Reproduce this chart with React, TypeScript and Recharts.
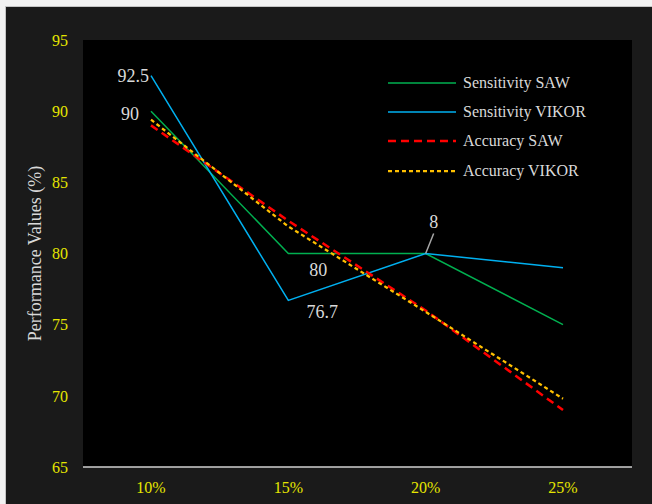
import React from "react";
import { LineChart, Line, XAxis, YAxis, CartesianGrid, Legend, LabelList } from "recharts";

const categories = ["10%", "15%", "20%", "25%"];
const sensitivitySAW = [90, 80, 80, 75];
const sensitivityVIKOR = [92.5, 76.7, 80, 79];
const accuracySAW = [89, 82.3, 76, 69];
const accuracyVIKOR = [89.4, 81.9, 75.9, 69.8];
const sawLabels = ["90", "80", "", ""];
const vikorLabels = ["92.5", "76.7", "8", ""];
const yTicks = [65, 70, 75, 80, 85, 90, 95];

const FONT = "Times New Roman, Liberation Serif, DejaVu Serif, serif";
const YELLOW = "#e6e600";
const LABEL = "#d9d9d9";

const series = [
  { key: "sSAW", name: "Sensitivity SAW", color: "#00b050", width: 1.5, dash: undefined as string | undefined },
  { key: "sVIKOR", name: "Sensitivity VIKOR", color: "#00b0f0", width: 1.5, dash: undefined as string | undefined },
  { key: "aSAW", name: "Accuracy SAW", color: "#ff0000", width: 2.5, dash: "8 5" },
  { key: "aVIKOR", name: "Accuracy VIKOR", color: "#ffc000", width: 2.25, dash: "4 3" },
];

const data = categories.map((c, i) => ({
  category: c,
  sSAW: sensitivitySAW[i],
  sVIKOR: sensitivityVIKOR[i],
  aSAW: accuracySAW[i],
  aVIKOR: accuracyVIKOR[i],
  sawLabel: sawLabels[i],
  vikorLabel: vikorLabels[i],
}));

const sawPlace = [
  { dx: -12, dy: 3, anchor: "end" },
  { dx: 30, dy: 16, anchor: "middle" },
];
const vikorPlace = [
  { dx: -2, dy: 0, anchor: "end" },
  { dx: 34, dy: 12, anchor: "middle" },
  { dx: 8, dy: -32, anchor: "middle", leader: true },
];

const makeLabel = (places: any[]) => (props: any) => {
  const { x, y, value, index } = props;
  if (!value) return null;
  const p = places[index];
  if (!p) return null;
  return (
    <g>
      {p.leader ? (
        <line x1={x} y1={y} x2={x + p.dx} y2={y + p.dy + 12} stroke="#a6a6a6" strokeWidth={1.5} />
      ) : null}
      <text
        x={x + p.dx}
        y={y + p.dy}
        textAnchor={p.anchor}
        dominantBaseline="central"
        fill={LABEL}
        fontSize={18}
        style={{ fontFamily: FONT }}
      >
        {value}
      </text>
    </g>
  );
};

const renderLegend = () => (
  <div style={{ fontFamily: FONT, fontSize: 16, color: LABEL }}>
    {series.map((s) => (
      <div key={s.key} style={{ height: 29.3, display: "flex", alignItems: "center" }}>
        <svg width={75} height={10} style={{ display: "block" }}>
          <line x1={0} y1={5} x2={68} y2={5} stroke={s.color} strokeWidth={s.width} strokeDasharray={s.dash} />
        </svg>
        <span style={{ whiteSpace: "nowrap" }}>{s.name}</span>
      </div>
    ))}
  </div>
);

const YLabel = (props: any) => {
  const vb = props.viewBox;
  const cx = vb.x + 2;
  const cy = 253.5;
  return (
    <text
      x={cx}
      y={cy}
      transform={`rotate(-90, ${cx}, ${cy})`}
      textAnchor="middle"
      dominantBaseline="central"
      fill={LABEL}
      fontSize={18}
      style={{ fontFamily: FONT }}
    >
      Performance Values (%)
    </text>
  );
};

export default function App() {
  return (
    <div style={{ position: "fixed", left: 0, top: 0, width: 652, height: 504, background: "#f2f2f2", overflow: "hidden", fontFamily: FONT }}>
      <div
        style={{
          position: "absolute",
          left: 5,
          top: 6,
          width: 660,
          height: 510,
          background: "#1a1a1a",
          borderLeft: "1px solid #c4c4c4",
          borderTop: "1px solid #c4c4c4",
        }}
      />
      <div style={{ position: "absolute", left: 0, top: 0 }}>
        <LineChart width={652} height={504} data={data} margin={{ top: 40, right: 20, bottom: 7, left: 33 }} style={{ fontFamily: FONT }}>
          <CartesianGrid horizontal={false} vertical={false} fill="#000000" stroke="none" />
          <XAxis
            dataKey="category"
            padding={{ left: 68, right: 69 }}
            height={30}
            axisLine={{ stroke: "#d0d0d0", strokeWidth: 1.5 }}
            tickLine={false}
            tickMargin={9}
            tick={{ fill: YELLOW, fontSize: 16, style: { fontFamily: FONT } }}
          />
          <YAxis
            domain={[65, 95]}
            ticks={yTicks}
            width={50}
            axisLine={false}
            tickLine={false}
            tickMargin={9}
            tick={{ fill: YELLOW, fontSize: 16, style: { fontFamily: FONT } }}
            label={{ content: YLabel }}
          />
          <Legend
            layout="vertical"
            align="center"
            verticalAlign="middle"
            wrapperStyle={{ top: 68, left: 388, width: 220 }}
            content={renderLegend}
          />
          {series.map((s) => (
            <Line
              key={s.key}
              type="linear"
              dataKey={s.key}
              name={s.name}
              stroke={s.color}
              strokeWidth={s.width}
              strokeDasharray={s.dash}
              dot={false}
              activeDot={false}
              isAnimationActive={false}
            >
              {s.key === "sSAW" ? <LabelList dataKey="sawLabel" content={makeLabel(sawPlace)} /> : null}
              {s.key === "sVIKOR" ? <LabelList dataKey="vikorLabel" content={makeLabel(vikorPlace)} /> : null}
            </Line>
          ))}
        </LineChart>
      </div>
    </div>
  );
}
